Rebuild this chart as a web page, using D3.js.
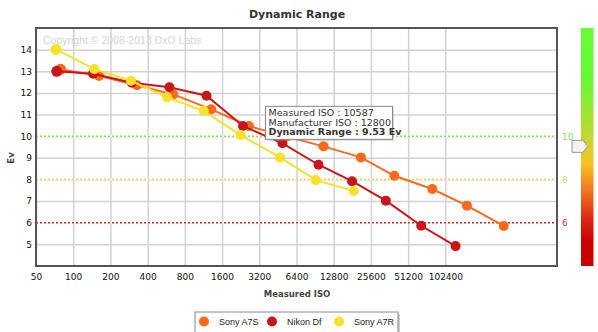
<!DOCTYPE html>
<html lang="en">
<head>
<meta charset="UTF-8">
<title>Dynamic Range</title>
<script src="https://d3js.org/d3.v7.min.js"></script>
<style>
  body { margin: 0; background: #fff; }
  svg text { font-family: "DejaVu Sans", Verdana, sans-serif; }
</style>
</head>
<body>
<div id="chart"></div>
<script>
// data
const seriesNames = ["Sony A7S", "Nikon Df", "Sony A7R"];
const seriesColors = ["#fb6a1c", "#c8171a", "#f7e12a"];

const isoA7S = [79, 162, 328, 646, 1307, 2640, 5300, 10587, 21250, 39600, 80200, 153000, 304000];
const evA7S = [13.09, 12.78, 12.35, 11.93, 11.24, 10.47, 9.98, 9.53, 9.02, 8.17, 7.56, 6.79, 5.85];

const isoDf = [73.6, 145, 298, 600, 1198, 2360, 4930, 9640, 18000, 33800, 65300, 123800];
const evDf = [13.0, 12.89, 12.47, 12.26, 11.87, 10.47, 9.67, 8.68, 7.92, 7.02, 5.86, 4.92];

const isoA7R = [72.6, 148, 293, 574, 1139, 2262, 4710, 9180, 18580];
const evA7R = [14.01, 13.10, 12.56, 11.80, 11.16, 10.05, 9.02, 7.97, 7.47];

const xTicks = [50, 100, 200, 400, 800, 1600, 3200, 6400, 12800, 25600, 51200, 102400];
const yTicks = [5, 6, 7, 8, 9, 10, 11, 12, 13, 14];

// reference levels on the right
const refLevels = [10, 8, 6];
const refColors = ["#7be845", "#f7c95a", "#e02a2a"];

// hovered point (Sony A7S)
const tipMeasured = 10587;
const tipManufacturer = 12800;
const tipRange = 9.53;

const W = 598, H = 332;
const pLeft = 36, pRight = 557, pTop = 28, pBottom = 266;

const svg = d3.select("#chart").append("svg")
    .attr("width", W).attr("height", H);

const x = d3.scaleLog().base(2).domain([50, 819200]).range([pLeft, pRight]);
const y = d3.scaleLinear().domain([4, 15]).range([pBottom, pTop]);

// title
svg.append("text")
    .attr("x", 297).attr("y", 18)
    .attr("text-anchor", "middle")
    .style("font-size", "11px").style("font-weight", "bold")
    .attr("fill", "#333")
    .text("Dynamic Range");

// grid
svg.append("g")
    .attr("transform", "translate(0," + pBottom + ")")
    .call(d3.axisBottom(x).tickValues(xTicks).tickSize(-(pBottom - pTop)).tickFormat(""))
    .call(g => g.select(".domain").remove())
    .call(g => g.selectAll("line").attr("stroke", "#d2d2d2").attr("stroke-width", 1.5));

svg.append("g")
    .attr("transform", "translate(" + pLeft + ",0)")
    .call(d3.axisLeft(y).tickValues(yTicks).tickSize(-(pRight - pLeft)).tickFormat(""))
    .call(g => g.select(".domain").remove())
    .call(g => g.selectAll("line").attr("stroke", "#d2d2d2").attr("stroke-width", 1.5));

// reference lines
refLevels.forEach((lv, i) => {
    svg.append("line")
        .attr("x1", pLeft).attr("x2", pRight)
        .attr("y1", y(lv)).attr("y2", y(lv))
        .attr("stroke", "#fff")
        .attr("stroke-width", 2);
    svg.append("line")
        .attr("x1", pLeft).attr("x2", pRight)
        .attr("y1", y(lv)).attr("y2", y(lv))
        .attr("stroke", refColors[i])
        .attr("stroke-width", 1.5)
        .attr("stroke-dasharray", "2,2");
    svg.append("text")
        .attr("x", 562).attr("y", y(lv) + 3.5)
        .style("font-size", "9px")
        .attr("fill", refColors[i])
        .text(lv);
});

// copyright
svg.append("text")
    .attr("x", 43).attr("y", 44)
    .style("font-family", "'Liberation Sans', Arial, sans-serif")
    .style("font-size", "10.5px")
    .attr("fill", "#d4d4d4")
    .text("Copyright \u00a9 2008-2013 DxO Labs");

// frame
svg.append("rect")
    .attr("x", pLeft).attr("y", pTop)
    .attr("width", pRight - pLeft).attr("height", pBottom - pTop)
    .attr("fill", "none").attr("stroke", "#555").attr("stroke-width", 2);

// axis labels
svg.append("g")
    .attr("transform", "translate(0," + (pBottom + 1) + ")")
    .call(d3.axisBottom(x).tickValues(xTicks).tickSize(0).tickPadding(7).tickFormat(d3.format("d")))
    .call(g => g.select(".domain").remove())
    .call(g => g.selectAll("text").style("font-family", "'DejaVu Sans', Verdana, sans-serif")
        .style("font-size", "9px").attr("fill", "#111"));

svg.append("g")
    .attr("transform", "translate(" + (pLeft - 3) + ",0)")
    .call(d3.axisLeft(y).tickValues(yTicks).tickSize(0).tickPadding(1))
    .call(g => g.select(".domain").remove())
    .call(g => g.selectAll("text").style("font-family", "'DejaVu Sans', Verdana, sans-serif")
        .style("font-size", "9px").attr("fill", "#111"));

svg.append("text")
    .attr("x", 297).attr("y", 297)
    .attr("text-anchor", "middle")
    .style("font-size", "8.5px").style("font-weight", "bold")
    .attr("fill", "#444")
    .text("Measured ISO");

svg.append("text")
    .attr("transform", "translate(14,158) rotate(-90)")
    .attr("text-anchor", "middle")
    .style("font-size", "8.5px").style("font-weight", "bold")
    .attr("fill", "#444")
    .text("Ev");

// series
const series = [
    { name: seriesNames[0], color: seriesColors[0], pts: isoA7S.map((v, i) => [v, evA7S[i]]) },
    { name: seriesNames[1], color: seriesColors[1], pts: isoDf.map((v, i) => [v, evDf[i]]) },
    { name: seriesNames[2], color: seriesColors[2], pts: isoA7R.map((v, i) => [v, evA7R[i]]) }
];

const line = d3.line().x(d => x(d[0])).y(d => y(d[1]));

series.forEach(s => {
    const g = svg.append("g");
    g.append("path")
        .attr("d", line(s.pts))
        .attr("fill", "none")
        .attr("stroke", s.color)
        .attr("stroke-width", 2);
    g.selectAll("circle")
        .data(s.pts)
        .enter().append("circle")
        .attr("cx", d => x(d[0]))
        .attr("cy", d => y(d[1]))
        .attr("r", (d, i) => i === 0 ? 5.5 : 5)
        .attr("fill", s.color);
});

// tooltip
const tipX = x(tipMeasured) - 58, tipY = y(tipRange) - 40;
const tip = svg.append("g").attr("transform", "translate(" + tipX + "," + tipY + ")");
tip.append("rect")
    .attr("x", 1.5).attr("y", 1.5).attr("width", 127).attr("height", 33)
    .attr("fill", "#999").attr("opacity", 0.35);
tip.append("rect")
    .attr("width", 127).attr("height", 33)
    .attr("fill", "#fff").attr("stroke", "#888").attr("stroke-width", 1);
const tipLines = [
    ["Measured ISO : " + tipMeasured, "normal"],
    ["Manufacturer ISO : " + tipManufacturer, "normal"],
    ["Dynamic Range : " + tipRange.toFixed(2) + " Ev", "bold"]
];
tipLines.forEach((t, i) => {
    tip.append("text")
        .attr("x", 3).attr("y", 9.5 + i * 9.7)
        .style("font-size", "9.5px").style("font-weight", t[1])
        .attr("fill", "#333")
        .text(t[0]);
});

// colour scale bar on the right
const defs = svg.append("defs");
const grad = defs.append("linearGradient")
    .attr("id", "drgrad").attr("x1", 0).attr("y1", 0).attr("x2", 0).attr("y2", 1);
[[0, "#66ff33"], [0.2, "#66f834"], [0.46, "#c2d830"], [0.57, "#f8c222"],
 [0.68, "#f07a20"], [0.8, "#dd2a16"], [0.9, "#cc0000"], [1, "#cc0000"]]
    .forEach(s => grad.append("stop").attr("offset", s[0]).attr("stop-color", s[1]));

svg.append("rect")
    .attr("x", 581).attr("y", y(15))
    .attr("width", 12.5).attr("height", y(4) - y(15))
    .attr("fill", "url(#drgrad)");

const my = y(tipRange);
svg.append("path")
    .attr("d", "M572," + (my - 6) + "H583L587.5," + my + "L583," + (my + 6) + "H572Z")
    .attr("fill", "#f2f2f2").attr("stroke", "#999").attr("stroke-width", 1);

// legend
const lg = svg.append("g").attr("transform", "translate(195,312)");
lg.append("rect").attr("x", 2).attr("y", 2).attr("width", 203).attr("height", 21)
    .attr("fill", "#999").attr("opacity", 0.5);
lg.append("rect").attr("width", 203).attr("height", 21)
    .attr("fill", "#fff").attr("stroke", "#888").attr("stroke-width", 1);
const legX = [9, 77, 144];
seriesNames.forEach((n, i) => {
    lg.append("circle").attr("cx", legX[i]).attr("cy", 9.5).attr("r", 5)
        .attr("fill", seriesColors[i]);
    lg.append("text").attr("x", legX[i] + 15).attr("y", 12.5)
        .style("font-family", "'Liberation Sans', Arial, sans-serif")
        .style("font-size", "9px").attr("fill", "#222")
        .text(n);
});
</script>
</body>
</html>
